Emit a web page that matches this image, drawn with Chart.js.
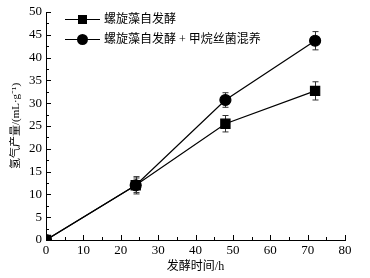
<!DOCTYPE html>
<html>
<head>
<meta charset="utf-8">
<script src="https://cdn.jsdelivr.net/npm/chart.js@4/dist/chart.umd.min.js"></script>
<style>
  html, body { margin: 0; padding: 0; background: #fff; }
  #wrap { width: 370px; height: 278px; }
</style>
</head>
<body>
<div id="wrap"><canvas id="chart" width="370" height="278"></canvas></div>
<script>
const hours = [0, 24, 48, 72];
const spirulinaOnly = [0, 12.0, 25.5, 32.7];
const spirulinaOnlyErr = [0, 1.9, 1.8, 2.0];
const mixedCulture = [0, 12.0, 30.7, 43.7];
const mixedCultureErr = [0, 1.6, 1.6, 2.0];
const seriesNames = ["螺旋藻自发酵", "螺旋藻自发酵 + 甲烷丝菌混养"];
const fontFamily = "'Liberation Serif', 'Noto Sans CJK SC', serif";

// error bars + inward ticks + in-plot legend
const decorations = {
  id: "decorations",
  beforeDatasetsDraw(chart) {
    const ctx = chart.ctx;
    const x = chart.scales.x, y = chart.scales.y;
    const errs = [spirulinaOnlyErr, mixedCultureErr];
    ctx.save();
    ctx.strokeStyle = "#333";
    ctx.lineWidth = 1;
    chart.data.datasets.forEach((ds, i) => {
      ds.data.forEach((pt, j) => {
        const e = errs[i][j];
        if (!e) return;
        const px = Math.round(x.getPixelForValue(pt.x)) + 0.5;
        const top = y.getPixelForValue(pt.y + e), bot = y.getPixelForValue(pt.y - e);
        ctx.beginPath();
        ctx.moveTo(px, top); ctx.lineTo(px, bot);
        ctx.moveTo(px - 3, top); ctx.lineTo(px + 3, top);
        ctx.moveTo(px - 3, bot); ctx.lineTo(px + 3, bot);
        ctx.stroke();
      });
    });
    ctx.restore();
  },
  afterDraw(chart) {
    const ctx = chart.ctx;
    const x = chart.scales.x, y = chart.scales.y;
    const area = chart.chartArea;
    ctx.save();
    ctx.strokeStyle = "#000";
    ctx.lineWidth = 1;
    ctx.beginPath();
    for (let v = 0; v <= 80; v += 5) {
      const px = Math.round(x.getPixelForValue(v)) + 0.5;
      const len = v % 10 === 0 ? 5 : 3;
      ctx.moveTo(px, area.bottom); ctx.lineTo(px, area.bottom - len);
    }
    for (let v = 0; v <= 50; v += 2.5) {
      const py = Math.round(y.getPixelForValue(v)) + 0.5;
      const len = v % 5 === 0 ? 5 : 3;
      ctx.moveTo(area.left, py); ctx.lineTo(area.left + len, py);
    }
    ctx.stroke();

    // legend
    const rows = [{ y: 19, style: "rect" }, { y: 39, style: "circle" }];
    ctx.font = "12px " + fontFamily;
    ctx.fillStyle = "#000";
    ctx.textBaseline = "middle";
    rows.forEach((r, i) => {
      ctx.beginPath();
      ctx.moveTo(65, r.y + 0.5); ctx.lineTo(100, r.y + 0.5);
      ctx.stroke();
      if (r.style === "rect") {
        ctx.fillRect(78, r.y - 4, 9, 9);
      } else {
        ctx.beginPath();
        ctx.arc(82.5, r.y + 0.5, 5.5, 0, Math.PI * 2);
        ctx.fill();
      }
      ctx.fillText(seriesNames[i], 104, r.y + 1);
    });
    ctx.restore();
  }
};

new Chart(document.getElementById("chart"), {
  type: "line",
  data: {
    datasets: [
      {
        label: seriesNames[0],
        data: hours.map((h, i) => ({ x: h, y: spirulinaOnly[i] })),
        borderColor: "#000",
        backgroundColor: "#000",
        borderWidth: 1.2,
        pointStyle: "rect",
        pointRadius: 6.5,
        tension: 0
      },
      {
        label: seriesNames[1],
        data: hours.map((h, i) => ({ x: h, y: mixedCulture[i] })),
        borderColor: "#000",
        backgroundColor: "#000",
        borderWidth: 1.2,
        pointStyle: "circle",
        pointRadius: 5.5,
        tension: 0
      }
    ]
  },
  options: {
    responsive: false,
    animation: false,
    layout: { padding: { top: 12, right: 25, left: 0, bottom: 0 } },
    plugins: { legend: { display: false }, tooltip: { enabled: false } },
    scales: {
      x: {
        type: "linear",
        min: 0, max: 80,
        grid: { display: false, drawTicks: false },
        border: { display: true, color: "#000", width: 1 },
        ticks: { stepSize: 10, color: "#000", padding: 3, font: { family: fontFamily, size: 13 } },
        title: { display: true, text: "发酵时间/h", color: "#000", padding: { top: 4 }, font: { family: fontFamily, size: 12 } },
        afterFit(s) { s.height = 38; }
      },
      y: {
        min: 0, max: 50,
        grid: { display: false, drawTicks: false },
        border: { display: true, color: "#000", width: 1 },
        ticks: { stepSize: 5, color: "#000", padding: 4, font: { family: fontFamily, size: 13 } },
        title: { display: true, text: "氢气产量/(mL·g⁻¹)", color: "#000", padding: { top: 10, bottom: 0 }, font: { family: fontFamily, size: 11 } },
        afterFit(s) { s.width = 46; }
      }
    }
  },
  plugins: [decorations]
});
</script>
</body>
</html>
